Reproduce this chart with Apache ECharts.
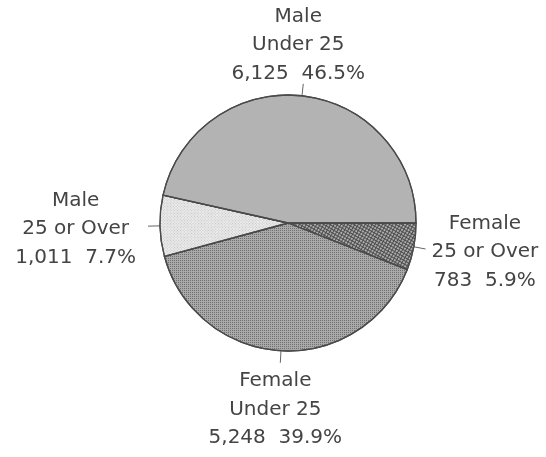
<!DOCTYPE html>
<html>
<head>
<meta charset="utf-8">
<script src="https://cdn.jsdelivr.net/npm/echarts@6/dist/echarts.min.js"></script>
<style>
html, body { margin: 0; padding: 0; background: #fff; }
#chart { width: 546px; height: 457px; }
</style>
</head>
<body>
<div id="chart"></div>
<script>
// slices in drawing order, clockwise from 3 o'clock
var sexes = ['Female', 'Female', 'Male', 'Male'];
var ages = ['25 or Over', 'Under 25', '25 or Over', 'Under 25'];
var counts = [783, 5248, 1011, 6125];

var fills = ['#4c4c4c', '#a9a9a9', '#ebebeb', '#b3b3b3'];
var decals = [
    { symbol: 'rect', symbolSize: 1, color: '#adadad', dashArrayX: [2, 1], dashArrayY: [2, 1] },
    { symbol: 'rect', symbolSize: 1, color: '#707070', dashArrayX: [1, 1], dashArrayY: [1, 1] },
    { symbol: 'rect', symbolSize: 1, color: '#c4c4c4', dashArrayX: [1, 1], dashArrayY: [1, 1] },
    { symbol: 'rect', symbolSize: 1, color: 'rgba(0,0,0,0)', dashArrayX: [1, 1], dashArrayY: [1, 1] }
];

var dom = document.getElementById('chart');
var myChart = echarts.init(dom);

var pieData = counts.map(function (v, i) {
    return {
        name: sexes[i] + '\n' + ages[i],
        value: v,
        itemStyle: { color: fills[i], decal: decals[i] }
    };
});

var option = {
    backgroundColor: '#ffffff',
    animation: false,
    aria: { enabled: true, decal: { show: true } },
    series: [{
        type: 'pie',
        center: [288, 223],
        radius: 128,
        startAngle: 0,
        clockwise: true,
        avoidLabelOverlap: false,
        percentPrecision: 1,
        itemStyle: { borderColor: '#4a4a4a', borderWidth: 1.3 },
        label: {
            show: true,
            position: 'outside',
            fontFamily: 'DejaVu Sans',
            fontSize: 20,
            lineHeight: 28.5,
            color: '#444',
            formatter: function (p) {
                return p.name + '\n' + echarts.format.addCommas(p.value) + '  ' + p.percent.toFixed(1) + '%';
            }
        },
        labelLine: {
            show: true,
            length: 12,
            length2: 0,
            lineStyle: { color: '#666', width: 1 }
        },
        emphasis: { disabled: true },
        labelLayout: function (p) {
            var pts = p.labelLinePoints;
            if (!pts) return {};
            var a = pts[0], e = pts[pts.length - 1];
            var dx = e[0] - a[0], dy = e[1] - a[1];
            var w = p.labelRect.width;
            if (Math.abs(dy) > Math.abs(dx)) {
                return {
                    x: e[0] - 5,
                    y: e[1] + 4,
                    align: 'center',
                    verticalAlign: dy < 0 ? 'bottom' : 'top',
                    labelLinePoints: pts
                };
            }
            return {
                x: dx < 0 ? e[0] - 12 - w / 2 : e[0] + 6 + w / 2,
                y: e[1] + 3,
                align: 'center',
                verticalAlign: 'middle',
                labelLinePoints: pts
            };
        },
        data: pieData
    }]
};

myChart.setOption(option, true);
</script>
</body>
</html>
